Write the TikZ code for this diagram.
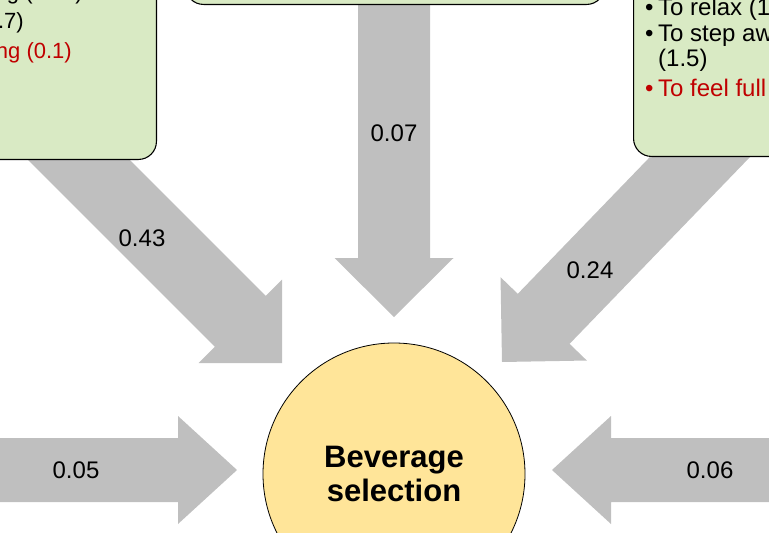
\documentclass[tikz,border=0pt]{standalone}
\usepackage{fontspec}
\setmainfont{Liberation Sans}
\definecolor{arrowgray}{RGB}{191,191,191}
\definecolor{boxgreen}{RGB}{217,234,196}
\definecolor{circleyellow}{RGB}{255,229,153}
\definecolor{textred}{RGB}{192,0,0}
\tikzset{
  flowfill/.style={fill=arrowgray, draw=none},
  factorbox/.style={fill=boxgreen, draw=black, line width=1.1pt, rounded corners=18pt, inner sep=0pt},
  weight/.style={font=\fontsize{24}{28}\selectfont, inner sep=0pt},
  item/.style={font=\fontsize{22}{26}\selectfont, inner sep=0pt},
  hotitem/.style={item, text=textred},
  bigitem/.style={font=\fontsize{24}{28}\selectfont, inner sep=0pt, anchor=base west},
  bighot/.style={bigitem, text=textred},
  target/.style={circle, fill=circleyellow, draw=black, line width=0.8pt, minimum size=262pt, inner sep=0pt,
    align=center, font=\fontsize{31}{34}\selectfont\bfseries},
}
% block arrow: tip, direction angle, total length, shaft half width, head half width, head length
\newcommand\flowarrow[6]{%
  \fill[flowfill, shift={(#1)}, rotate=#2]
    (0,0) -- (-#6,#5) -- (-#6,#4) -- (-#3,#4) -- (-#3,-#4) -- (-#6,-#4) -- (-#6,-#5) -- cycle;
}
\begin{document}
\begin{tikzpicture}[x=1pt, y=-1pt]
  \useasboundingbox (0,0) rectangle (769,533);
  \clip (0,0) rectangle (769,533);

  % arrow tips
  \coordinate (tipN)  at (394,317);
  \coordinate (tipNW) at (282,363);
  \coordinate (tipNE) at (502,362);
  \coordinate (tipW)  at (237,470);
  \coordinate (tipE)  at (552,470);

  % weighted flows into the central node
  \flowarrow{tipN}{-90}{330}{36}{59.5}{59}
  \flowarrow{tipNW}{-45}{400}{36}{59}{59}
  \flowarrow{tipNE}{-134}{360}{36}{60}{60}
  \flowarrow{tipW}{0}{300}{32}{54}{59}
  \flowarrow{tipE}{180}{300}{32}{54}{59}

  % factor boxes
  \node[factorbox, minimum width=460pt, minimum height=460pt, anchor=south east] (boxL) at (157,160) {};
  \node[factorbox, minimum width=419pt, minimum height=200pt, anchor=south west] (boxN) at (185,5) {};
  \node[factorbox, minimum width=400pt, minimum height=460pt, anchor=south west] (boxR) at (633,157) {};

  % left box items
  \node[item, anchor=base east] (l1) at (83,-1) {g (0.15)};
  \node[item, anchor=base east] (l2) at (24,28) {(0.7)};
  \node[hotitem, anchor=base east] (l3) at (72,58) {ng (0.1)};

  % right box items
  \node[bigitem] (b1) at (645,15) {•};
  \node[bigitem] (r1) at (658,15) {To relax (1};
  \node[bigitem] (b2) at (645,41) {•};
  \node[bigitem] (r2) at (658,41) {To step aw};
  \node[bigitem] (r2b) at (658,66) {(1.5)};
  \node[bighot] (b3) at (645,96) {•};
  \node[bighot] (r3) at (658,96) {To feel full};

  % central node
  \node[target] (bev) at (394,474) {Beverage\\selection};

  % flow weights
  \node[weight] (wN)  at (394,133) {0.07};
  \node[weight] (wNW) at (142,238) {0.43};
  \node[weight] (wNE) at (590,270) {0.24};
  \node[weight] (wW)  at (76,470)  {0.05};
  \node[weight] (wE)  at (710,470) {0.06};
\end{tikzpicture}
\end{document}
